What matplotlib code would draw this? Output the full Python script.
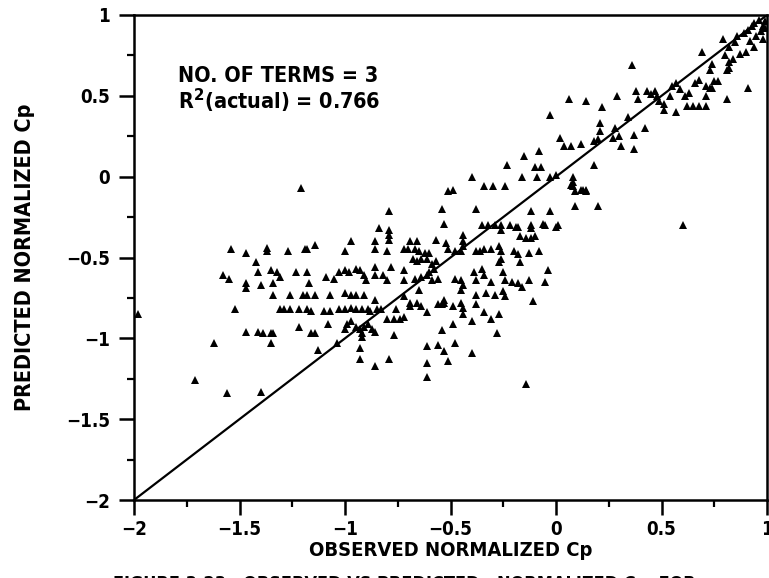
import matplotlib
matplotlib.use("Agg")
import matplotlib.pyplot as plt
import numpy as np

# ---------------- data ----------------
obs_left = [-1.21, -0.79, -0.84, -0.79, -0.79, -0.79, -0.97, -0.86, -0.86, -1.14, -1.54, -1.47, -1.37, -1.37, -1.27,
            -1.19, -1.18, -1.00, -0.80, -0.69, -0.66, -0.57, -0.54, -0.53, -0.51,
            -0.72, -0.70, -0.67, -0.65, -0.62, -0.60, -0.68, -0.66, -0.64, -0.61, -0.57,
            -1.58, -1.55, -1.42, -1.41, -1.35, -1.32, -1.31, -1.23, -1.18, -1.17, -1.09, -1.05, -1.03, -1.00, -0.98,
            -0.95, -0.93, -0.91, -0.90, -0.86, -0.86, -0.82, -0.80, -0.78, -0.72, -0.72, -0.67, -0.64, -0.61, -0.59,
            -0.56, -1.47, -1.47, -1.40, -1.34, -0.65,
            -1.34, -1.26, -1.20, -1.18, -1.14, -1.07, -1.00, -0.97, -0.95, -0.91, -0.86, -0.72, -0.69, -0.66, -0.64,
            -1.98, -1.52, -1.31, -1.29, -1.26, -1.22, -1.18, -1.16, -1.10, -1.07, -1.03, -1.00, -0.97, -0.95, -0.92,
            -0.89, -0.88, -0.85, -0.83, -0.80, -0.77, -0.74, -0.72, -0.69, -0.76, -0.61, -0.54, -0.53,
            -1.22, -1.08, -1.00, -0.99, -0.97, -0.95, -0.93, -0.92, -0.92, -0.91, -0.89, -0.87, -0.86, -1.16, -1.14,
            -1.47, -1.41, -1.39, -1.35, -1.34, -1.35, -1.62, -0.77, -1.13, -1.04, -0.93, -0.93, -0.86, -0.79, -0.54,
            -0.61, -0.61, -0.61, -0.56, -0.53, -0.51, -1.71, -1.56, -1.40]
pred_left = [-0.07, -0.21, -0.32, -0.33, -0.36, -0.39, -0.40, -0.40, -0.45, -0.42, -0.45, -0.47, -0.44, -0.46, -0.46,
             -0.45, -0.45, -0.46, -0.46, -0.40, -0.40, -0.39, -0.20, -0.29, -0.09,
             -0.45, -0.45, -0.45, -0.46, -0.47, -0.47, -0.51, -0.52, -0.51, -0.51, -0.52,
             -0.61, -0.63, -0.53, -0.59, -0.58, -0.59, -0.62, -0.59, -0.59, -0.66, -0.62, -0.63, -0.59, -0.58, -0.59,
             -0.57, -0.58, -0.61, -0.64, -0.56, -0.61, -0.61, -0.64, -0.56, -0.58, -0.64, -0.63, -0.62, -0.61, -0.64,
             -0.63, -0.66, -0.69, -0.67, -0.66, -0.70,
             -0.73, -0.73, -0.73, -0.73, -0.73, -0.73, -0.72, -0.73, -0.73, -0.73, -0.76, -0.74, -0.78, -0.78, -0.80,
             -0.85, -0.82, -0.82, -0.82, -0.82, -0.82, -0.82, -0.83, -0.83, -0.83, -0.82, -0.82, -0.81, -0.82, -0.82,
             -0.82, -0.83, -0.82, -0.82, -0.88, -0.88, -0.88, -0.87, -0.80, -0.82, -0.84, -0.79, -0.78,
             -0.93, -0.91, -0.94, -0.91, -0.89, -0.93, -0.94, -0.97, -0.99, -0.93, -0.91, -0.94, -0.96, -0.97, -0.97,
             -0.96, -0.96, -0.97, -0.97, -0.97, -1.03, -1.03, -0.98, -1.07, -1.03, -1.06, -1.13, -1.17, -1.13, -0.95,
             -1.05, -1.15, -1.24, -1.04, -1.08, -1.14, -1.26, -1.34, -1.33]

obs_mid = [-0.49, -0.34, -0.30, -0.24, -0.38, -0.12, -0.03, 0.09, 0.20, 0.07, 0.13, 0.14,
           -0.52, -0.51, -0.48, -0.45, -0.44, -0.44, -0.44, -0.38, -0.36, -0.34, -0.31, -0.27, -0.26, -0.26, -0.27,
           -0.35, -0.32, -0.29, -0.26, -0.22, -0.19, -0.26, -0.18, -0.12, -0.06, -0.05, 0.01,
           -0.17, -0.14, -0.12, -0.10,
           -0.20, -0.18, -0.17, -0.13, -0.08,
           -0.04, -0.05, -0.11,
           -0.59, -0.58, -0.60,
           -0.48, -0.45, -0.45, -0.44,
           -0.39, -0.38, -0.35, -0.34, -0.31,
           -0.25, -0.24, -0.21, -0.18, -0.16, -0.13,
           -0.25, -0.24,
           -0.38, -0.33, -0.29,
           -0.56, -0.53, -0.49,
           -0.45, -0.44, -0.44,
           -0.38, -0.34, -0.27, -0.31, -0.40,
           -0.49, -0.28,
           -0.48, -0.40,
           -0.14]
pred_mid = [-0.08, -0.06, -0.06, -0.06, -0.20, -0.21, -0.21, -0.18, -0.18, -0.05, -0.08, -0.08,
            -0.41, -0.45, -0.46, -0.46, -0.36, -0.40, -0.43, -0.46, -0.46, -0.45, -0.45, -0.43, -0.46, -0.51, -0.53,
            -0.30, -0.30, -0.30, -0.30, -0.30, -0.31, -0.33, -0.31, -0.30, -0.29, -0.30, -0.30,
            -0.37, -0.38, -0.38, -0.37,
            -0.46, -0.48, -0.53, -0.47, -0.46,
            -0.58, -0.65, -0.77,
            -0.54, -0.57, -0.59,
            -0.63, -0.64, -0.70, -0.67,
            -0.59, -0.64, -0.57, -0.61, -0.65,
            -0.59, -0.64, -0.65, -0.66, -0.68, -0.64,
            -0.71, -0.74,
            -0.73, -0.72, -0.73,
            -0.79, -0.76, -0.80,
            -0.78, -0.81, -0.85,
            -0.79, -0.84, -0.85, -0.88, -0.89,
            -0.91, -0.97,
            -1.03, -1.09,
            -1.28]

obs_right = [0.36, 0.06, 0.14, -0.03, 0.22, 0.29, 0.38, 0.39,
             0.43, 0.45, 0.47, 0.48, 0.49, 0.51, 0.51, 0.54, 0.55, 0.57, 0.59, 0.61, 0.63, 0.66, 0.68, 0.71, 0.73, 0.75,
             0.57, 0.62, 0.65, 0.68, 0.71, 0.71, 0.74, 0.81, 0.91, 0.77, 0.69, 0.73, 0.74, 0.79, 0.80, 0.82, 0.82, 0.81,
             0.82, 0.85, 0.86, 0.89, 0.91, 0.93, 0.94, 0.96, 0.98, 0.95, 0.98, 0.92, 0.94, 0.90, 0.87, 0.84, 0.97, 0.99, 0.99,
             0.42, 0.37, 0.37, 0.31, 0.34, 0.28, 0.30, 0.27, 0.21, 0.21, 0.20, 0.18,
             0.02, 0.04, 0.07, 0.12, -0.08, -0.15, -0.23, -0.10, -0.07,
             -0.40, -0.16, -0.09, -0.03, 0.00,
             0.08, 0.08, 0.08, 0.09, 0.12, 0.14, 0.18,
             0.60,
             -0.12, 0.00]
pred_right = [0.69, 0.48, 0.47, 0.38, 0.43, 0.50, 0.53, 0.48,
              0.53, 0.51, 0.53, 0.50, 0.47, 0.45, 0.41, 0.50, 0.56, 0.58, 0.54, 0.50, 0.52, 0.58, 0.60, 0.56, 0.55, 0.59,
              0.40, 0.44, 0.44, 0.44, 0.44, 0.50, 0.55, 0.48, 0.55, 0.59, 0.77, 0.66, 0.70, 0.85, 0.75, 0.71, 0.67, 0.66,
              0.80, 0.83, 0.87, 0.89, 0.91, 0.93, 0.95, 0.97, 0.93, 0.87, 0.85, 0.84, 0.80, 0.77, 0.76, 0.73, 0.90, 0.96, 0.92,
              0.30, 0.26, 0.17, 0.19, 0.37, 0.30, 0.25, 0.24, 0.33, 0.28, 0.23, 0.22,
              0.24, 0.19, 0.19, 0.20, 0.16, 0.13, 0.07, 0.06, 0.06,
              0.00, 0.00, 0.00, 0.00, 0.01,
              0.00, -0.03, -0.06, -0.09, -0.08, -0.09, 0.07,
              -0.30,
              -0.32, -0.31]

observed = obs_left + obs_mid + obs_right
predicted = pred_left + pred_mid + pred_right

line_ends = [-2, 1]
xticks = [-2, -1.5, -1, -0.5, 0, 0.5, 1]
yticks = [-2, -1.5, -1, -0.5, 0, 0.5, 1]
xtick_labels = ["\u22122", "\u22121.5", "\u22121", "\u22120.5", "0", "0.5", "1"]
ytick_labels = ["\u22122", "\u22121.5", "\u22121", "\u22120.5", "0", "0.5", "1"]
minor_ticks = [-1.75, -1.25, -0.75, -0.25, 0.25, 0.75]

annot_lines = ["NO. OF TERMS = 3", "R$^{\\mathbf{2}}$(actual) = 0.766"]
xlabel = "OBSERVED NORMALIZED Cp"
ylabel = "PREDICTED NORMALIZED Cp"
caption = "FIGURE 3-23.  OBSERVED VS PREDICTED,  NORMALIZED Cp  FOR"

# ---------------- figure ----------------
W, H = 769, 578
fig = plt.figure(figsize=(W / 100, H / 100), dpi=100)
ax = fig.add_axes([134 / W, (H - 500) / H, (767 - 134) / W, (500 - 15) / H])

font = dict(family="DejaVu Sans", weight="bold", stretch="condensed")

ax.plot(line_ends, line_ends, color="black", lw=1.6, zorder=2)
ax.plot(observed, predicted, linestyle="none", marker="^", ms=6,
        color="black", markeredgewidth=0, zorder=3)

ax.set_xlim(-2, 1)
ax.set_ylim(-2, 1)
ax.set_xticks(xticks)
ax.set_yticks(yticks)
ax.set_xticklabels(xtick_labels, fontdict=dict(size=13.5, **font))
ax.set_yticklabels(ytick_labels, fontdict=dict(size=13.5, **font))
ax.set_xticks(minor_ticks, minor=True)
ax.set_yticks(minor_ticks, minor=True)
ax.tick_params(which="major", direction="out", length=10.5, width=1.8, pad=4)
ax.tick_params(axis="y", which="major", pad=7)
ax.tick_params(which="minor", direction="out", length=5, width=1.6)
for s in ax.spines.values():
    s.set_linewidth(1.8)

ax.set_xlabel(xlabel, fontsize=14.5, labelpad=1, **font)
ax.set_ylabel(ylabel, fontsize=15.5, labelpad=22, **font)

ax.text(-1.79, 0.623, annot_lines[0], fontsize=15.5, va="center", ha="left", **font)
ax.text(-1.79, 0.468, annot_lines[1], fontsize=15.5, va="center", ha="left", **font)

fig.text(113 / W, (H - 575) / H, caption, fontsize=13, va="top", ha="left", **font)

fig.savefig("out.png", dpi=100)
